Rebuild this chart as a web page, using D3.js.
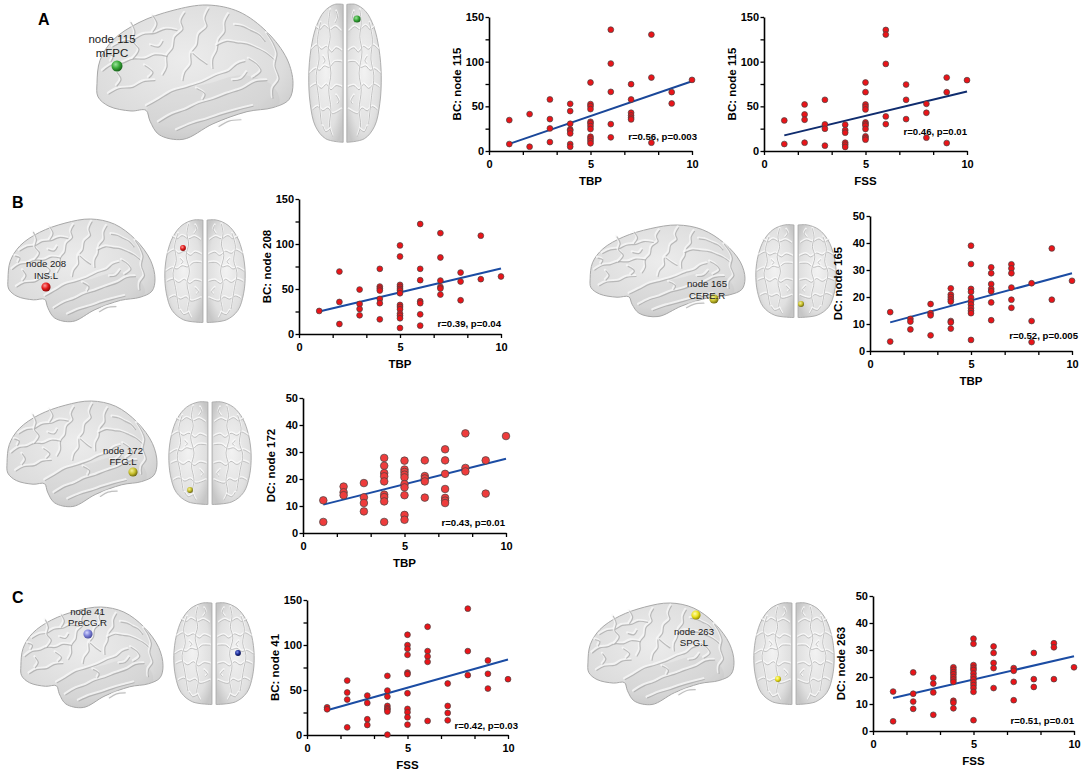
<!DOCTYPE html>
<html><head><meta charset="utf-8">
<script src="https://cdn.jsdelivr.net/npm/d3@7"></script>
<style>
body{margin:0;background:#fff;}
svg{display:block;font-family:"Liberation Sans",Arial,Helvetica,sans-serif;}
</style></head><body>
<svg id="fig" width="1084" height="772"></svg>
<script>
// ---------------- DATA ----------------
// clinical score levels (x categories)
const scoreLevels = [1,2,3,4,5,6,7,8,9,10];
// y values grouped by score level (index 0 -> score 1 ... index 9 -> score 10)
const bc115_TBP = [[34.6,7.8],[41.3,4.8],[57.7,35.7,25.3,10],[52.8,44.7,30.5,24.2,22.7,19.7,7.8,4.8],
  [76.7,52.5,50.2,46.9,32.7,30.9,27.9,24.6,16,13.8,11.2,8.6],[135.8,97.9,66.2,30.1,15.3],
  [74.8,57.7,42.8,39.8,37.2,35.4],[130.3,82.2,9.3],[65.9,53.2],[79.6]];
const bc115_FSS = [[34.2,7.8],[52.1,40.9,35,9.3],[57.3,29.8,24.9,6],[29.4,23.4,20.5,9.3,7.1,4.5],
  [76.7,65.9,52.1,49.5,46.5,32,30.1,28.3,24.6,16.4,14.5,12.7],[135.5,130.3,97.5,38.7,30.1],
  [74.4,57.3,35.7],[52.8,42.8,14.9],[82.2,65.9,8.9],[79.3]];
const bc208_TBP = [[25.6],[69.4,35.6,11.1],[49.4,33.4,27.8,20.8],[72.4,52.7,50.5,48.3,39,34.2,16.3],
  [98.4,86.1,54.6,52.4,50.1,48.3,45.3,32.3,30.1,27.5,22.7,20.4,17.5,6.7],[122.2,72.4,59.8,36.4,34.2,21.9,9.3],
  [112.1,85,59.4,52.4,50.5,43.8],[68.3,58.3,37.5],[109.2,60.9],[63.9]];
const dc165_TBP = [[14.4,3.5],[11.9,10.9,8.0],[17.4,14,13.2,5.8],[23.2,20.9,20,19.1,18.3,11.1,10.6,8.3],
  [39,32.2,23,21.9,19.8,18.3,17.2,15.9,14.9,14,4.1],[31,28.8,24.8,23,22.1,18,11.4],
  [32.1,30.6,28.8,23.5,19,16],[25.1,11.1,3.3],[38,19],[26]];
const dc172_TBP = [[12.1,4.1],[17.2,15.1,14],[18.5,13.2,11.1,8],[27.8,24.9,22.2,21,19.1,14.2,13.3,11.7,4.1],
  [26.8,23.5,22.6,21.6,20.6,18.1,16.9,14,6.7,4.9],[26.9,21.1,20.2,19.1,13.1],
  [31,26.9,21.9,16.3,13,12,11.1],[36.9,24.1,22.8],[26.9,14.6],[35.9]];
const bc41_FSS = [[30.8,28.6],[60.5,47.2,39.4,8.5],[43.8,35.6,17.5,11.1],[65.7,49.4,42.7,32.3,29.7,28.2,26,0.4],
  [111.4,99.9,95.8,89.1,69.4,67.6,46.4,29,25.3,19.7,11.5],[120.3,93.2,87.3,81.3,15.6],
  [57.2,32.3,24.5,16.3],[140.4,93.2,66.5],[82.8,68,51.6],[62]];
const dc263_FSS = [[14.6,3.6],[21.7,13.8,10.9,8.2],[19.7,17.6,14.3,6],[23.6,22.7,21.8,21,20,19.1,18.2,11.2,10.5,8.4],
  [34.2,32.3,24.4,23.4,22.6,21.3,20.1,19.1,18,17,15.9,14.5,4],[31.3,28.9,25.2,23.3,15.9],
  [23.3,22.3,18.2,11.4],[28.9,19.2,16.3],[32.5,31,19.2],[23.6]];
// regression fitted values at x = 1 and x = 10
const fitX = [1, 10];
const fit_bc115_TBP = [8, 78];
const fit_bc115_FSS = [17.5, 66.6];
const fit_bc208_TBP = [25, 72.8];
const fit_dc165_TBP = [10.6, 28.8];
const fit_dc172_TBP = [10.5, 27.5];
const fit_bc41_FSS = [27.5, 83.9];
const fit_dc263_FSS = [12.2, 27.7];
// ticks
const xTicks = [0, 5/3, 10/3, 5, 20/3, 25/3, 10];
const xTickLabels = [0, 5, 10];
const bcTicks = [0, 25, 50, 75, 100, 125, 150];
const bcTickLabels = [0, 50, 100, 150];
const dcTicks = [0, 10, 20, 30, 40, 50];
const dcTickLabels = [0, 10, 20, 30, 40, 50];
const statLabels = ["r=0.56, p=0.003","r=0.46, p=0.01","r=0.39, p=0.04","r=0.52, p=0.005","r=0.43, p=0.01","r=0.42, p=0.03","r=0.51, p=0.01"];
const yTitles = ["BC: node 115","BC: node 115","BC: node 208","DC: node 165","DC: node 172","BC: node 41","DC: node 263"];
const xTitles = ["TBP","FSS","TBP","TBP","TBP","FSS","FSS"];
const panelLetters = ["A","B","C"];
const nodeLabels = [["node 115","mFPC"],["node 208","INS.L"],["node 165","CERE.R"],["node 172","FFG.L"],["node 41","PreCG.R"],["node 263","SPG.L"]];

// ---------------- LAYOUT ----------------
const svg = d3.select("#fig");
const defs = svg.append("defs");

const plots = [
  {data:bc115_TBP, fit:fit_bc115_TBP, yMax:150, ticks:bcTicks, labels:bcTickLabels, box:[489,692,17,151], note:[697,139.5], r:2.9, fill:"#ea1419", line:"#1a4799"},
  {data:bc115_FSS, fit:fit_bc115_FSS, yMax:150, ticks:bcTicks, labels:bcTickLabels, box:[764,967,17,151], note:[967,134.5], r:2.9, fill:"#ea1419", line:"#0f2c6e"},
  {data:bc208_TBP, fit:fit_bc208_TBP, yMax:150, ticks:bcTicks, labels:bcTickLabels, box:[299,501,199,334], note:[501,327], r:2.9, fill:"#ea1419", line:"#1b4ca3"},
  {data:dc165_TBP, fit:fit_dc165_TBP, yMax:50, ticks:dcTicks, labels:dcTickLabels, box:[870,1072,216,351], note:[1078,338.5], r:2.9, fill:"#ea1419", line:"#1b4ca3"},
  {data:dc172_TBP, fit:fit_dc172_TBP, yMax:50, ticks:dcTicks, labels:dcTickLabels, box:[303,506,398,533], note:[505,526], r:3.8, fill:"#ee3c3c", line:"#1b4ca3"},
  {data:bc41_FSS, fit:fit_bc41_FSS, yMax:150, ticks:bcTicks, labels:bcTickLabels, box:[307,508,600,735], note:[518,728.5], r:2.9, fill:"#ea1419", line:"#1b4ca3"},
  {data:dc263_FSS, fit:fit_dc263_FSS, yMax:50, ticks:dcTicks, labels:dcTickLabels, box:[873,1074,596,731], note:[1074,723.5], r:2.9, fill:"#ea1419", line:"#1b4ca3"}
];

// ---------------- BRAIN ILLUSTRATIONS ----------------
const bg = defs.append("radialGradient").attr("id","latGrad").attr("cx","45%").attr("cy","40%").attr("r","72%");
bg.append("stop").attr("offset","0%").attr("stop-color","#ececec");
bg.append("stop").attr("offset","70%").attr("stop-color","#dcdcdc");
bg.append("stop").attr("offset","100%").attr("stop-color","#c4c4c4");
const ag = defs.append("radialGradient").attr("id","axGrad").attr("cx","50%").attr("cy","48%").attr("r","62%");
ag.append("stop").attr("offset","0%").attr("stop-color","#f2f2f2");
ag.append("stop").attr("offset","72%").attr("stop-color","#e0e0e0");
ag.append("stop").attr("offset","100%").attr("stop-color","#c6c6c6");

const latOutline = [[0.02,0.58],[0.035,0.41],[0.1,0.26],[0.23,0.13],[0.4,0.04],[0.57,0.0],[0.73,0.05],[0.87,0.2],[0.97,0.4],[1.0,0.58],[0.98,0.7],[0.9,0.76],[0.77,0.79],[0.6,0.88],[0.45,0.995],[0.33,0.96],[0.285,0.86],[0.265,0.78],[0.19,0.785],[0.08,0.75],[0.025,0.68]];
const latTemporal = [[0.27,0.77],[0.4,0.65],[0.58,0.58],[0.75,0.52],[0.9,0.6],[0.93,0.73],[0.77,0.79],[0.6,0.88],[0.45,0.995],[0.33,0.96],[0.285,0.86]];
const latSulci = [
  [[0.27,0.75],[0.33,0.7],[0.4,0.64],[0.47,0.61],[0.55,0.57],[0.62,0.52],[0.68,0.49],[0.72,0.44],[0.76,0.42]],
  [[0.33,0.87],[0.4,0.81],[0.46,0.78],[0.53,0.73],[0.6,0.7],[0.67,0.66],[0.75,0.62],[0.81,0.57],[0.87,0.56]],
  [[0.42,0.93],[0.5,0.88],[0.57,0.85],[0.65,0.81],[0.72,0.78],[0.8,0.75]],
  [[0.58,0.03],[0.56,0.1],[0.57,0.16],[0.53,0.22],[0.52,0.3],[0.49,0.36],[0.49,0.44],[0.46,0.5],[0.45,0.56]],
  [[0.46,0.06],[0.44,0.12],[0.45,0.18],[0.41,0.24],[0.4,0.32],[0.37,0.38],[0.37,0.46],[0.35,0.52]],
  [[0.68,0.07],[0.66,0.13],[0.66,0.2],[0.63,0.26],[0.62,0.34],[0.6,0.4],[0.6,0.47]],
  [[0.1,0.31],[0.15,0.27],[0.2,0.26],[0.25,0.22],[0.31,0.21],[0.36,0.18],[0.42,0.19]],
  [[0.05,0.49],[0.1,0.44],[0.15,0.43],[0.2,0.4],[0.26,0.4],[0.31,0.37],[0.37,0.38]],
  [[0.62,0.3],[0.67,0.27],[0.72,0.28],[0.77,0.29],[0.82,0.32],[0.86,0.35],[0.91,0.41]],
  [[0.87,0.21],[0.9,0.28],[0.92,0.36],[0.91,0.45],[0.93,0.55],[0.9,0.62],[0.9,0.69]],
  [[0.08,0.66],[0.13,0.62],[0.2,0.61],[0.25,0.57],[0.31,0.56]],
  [[0.71,0.15],[0.75,0.16],[0.79,0.19],[0.83,0.22],[0.86,0.27]],
  [[0.19,0.13],[0.21,0.2],[0.2,0.27],[0.23,0.33],[0.2,0.4]],
  [[0.12,0.5],[0.14,0.55],[0.12,0.6]],
  [[0.78,0.4],[0.82,0.44],[0.84,0.49],[0.8,0.54]],
  [[0.3,0.08],[0.32,0.14],[0.3,0.2]],
  [[0.26,0.45],[0.3,0.5],[0.28,0.54]],
  [[0.52,0.62],[0.56,0.66],[0.55,0.7]],
  [[0.7,0.56],[0.74,0.55],[0.77,0.5]],
  [[0.5,0.36],[0.54,0.41],[0.57,0.44]],
  [[0.35,0.27],[0.33,0.31],[0.29,0.3]],
  [[0.07,0.36],[0.1,0.38],[0.09,0.42]],
  [[0.63,0.9],[0.68,0.86],[0.74,0.85]]
];
const axHemi = [[0.475,0.01],[0.36,0.01],[0.22,0.06],[0.11,0.17],[0.04,0.33],[0.01,0.52],[0.03,0.72],[0.1,0.88],[0.24,0.97],[0.475,0.995]];
const axSulci = [
  [[0.1,0.17],[0.16,0.19],[0.22,0.16],[0.3,0.19],[0.37,0.17],[0.44,0.2]],
  [[0.05,0.33],[0.12,0.3],[0.18,0.33],[0.25,0.31],[0.32,0.35],[0.38,0.32],[0.45,0.34]],
  [[0.03,0.5],[0.1,0.47],[0.16,0.48],[0.22,0.45],[0.29,0.46],[0.36,0.42],[0.45,0.42]],
  [[0.04,0.6],[0.11,0.58],[0.18,0.61],[0.25,0.58],[0.31,0.62],[0.38,0.59],[0.45,0.6]],
  [[0.07,0.76],[0.13,0.74],[0.2,0.77],[0.27,0.75],[0.33,0.79],[0.45,0.76]],
  [[0.3,0.05],[0.28,0.14],[0.3,0.24],[0.27,0.35],[0.31,0.5],[0.28,0.62],[0.31,0.76],[0.29,0.88],[0.33,0.95]],
  [[0.17,0.14],[0.13,0.26],[0.15,0.4],[0.11,0.52],[0.14,0.66],[0.18,0.86]],
  [[0.38,0.06],[0.4,0.1],[0.37,0.14]],
  [[0.2,0.88],[0.24,0.92],[0.3,0.9]],
  [[0.38,0.66],[0.42,0.7],[0.4,0.72]],
  [[0.2,0.38],[0.23,0.41],[0.21,0.43]]
];

function drawLateral(b){
  const [bx,by,bw,bh] = b;
  const sx = d3.scaleLinear().range([bx,bx+bw]), sy = d3.scaleLinear().range([by,by+bh]);
  const g = svg.append("g");
  const closed = d3.line().x(d=>sx(d[0])).y(d=>sy(d[1])).curve(d3.curveCatmullRomClosed);
  const open = d3.line().x(d=>sx(d[0])).y(d=>sy(d[1])).curve(d3.curveCatmullRom);
  g.append("path").attr("d",closed(latOutline)).attr("fill","url(#latGrad)").attr("stroke","#a8a8a8").attr("stroke-width",1);
  g.append("path").attr("d",closed(latTemporal)).attr("fill","#9a9a9a").attr("fill-opacity",0.1).attr("stroke","none");
  latSulci.forEach(s=>{
    g.append("path").attr("d",open(s)).attr("fill","none").attr("stroke","#f8f8f8").attr("stroke-width",2.4).attr("stroke-opacity",0.75).attr("stroke-linecap","round").attr("transform","translate(-1,-1.2)");
    g.append("path").attr("d",open(s)).attr("fill","none").attr("stroke","#a4a4a4").attr("stroke-width",1.2).attr("stroke-opacity",0.7).attr("stroke-linecap","round");
  });
}
function drawAxial(b){
  const [bx,by,bw,bh] = b;
  const g = svg.append("g");
  [false,true].forEach(m=>{
    const sx = d3.scaleLinear().range(m?[bx+bw,bx]:[bx,bx+bw]), sy = d3.scaleLinear().range([by,by+bh]);
    const ln = d3.line().x(d=>sx(d[0])).y(d=>sy(d[1])).curve(d3.curveCatmullRom);
    g.append("path").attr("d",ln(axHemi)+"Z").attr("fill","url(#axGrad)").attr("stroke","#a8a8a8").attr("stroke-width",0.9);
    axSulci.forEach(s=>{
      g.append("path").attr("d",ln(s)).attr("fill","none").attr("stroke","#fcfcfc").attr("stroke-width",2).attr("stroke-opacity",0.75).attr("stroke-linecap","round").attr("transform","translate(0,-1)");
      g.append("path").attr("d",ln(s)).attr("fill","none").attr("stroke","#a9a9a9").attr("stroke-width",1).attr("stroke-opacity",0.7).attr("stroke-linecap","round");
    });
  });
}
const sphereColors = {green:["#9be39b","#38a838","#17621a"], red:["#ff9a9a","#e21a1a","#8c0a0a"], olive:["#f4ef9a","#c7bf2c","#6f6a10"], lav:["#d6d8ff","#7c80d8","#4a4d9c"], navy:["#7e8ee8","#1c2e9a","#0a1250"], yellow:["#fffbb0","#ebe21e","#9a9000"]};
Object.entries(sphereColors).forEach(([k,c])=>{
  const gr = defs.append("radialGradient").attr("id","sph-"+k).attr("cx","38%").attr("cy","35%").attr("r","65%");
  gr.append("stop").attr("offset","0%").attr("stop-color",c[0]);
  gr.append("stop").attr("offset","55%").attr("stop-color",c[1]);
  gr.append("stop").attr("offset","100%").attr("stop-color",c[2]);
});

const lateralBoxes = [[93,5,200,135],[5,219,150,103],[587,225,158,92],[4,401,153,106],[18,607,145,101],[585,603,149,102]];
const axialBoxes = [[308,3,74,140],[164,219,82,104],[755,224,82,94],[168,401,84,104],[173,602,82,103],[753,602,82,103]];
lateralBoxes.forEach(drawLateral);
axialBoxes.forEach(drawAxial);

const nodes = [
  [117,66,5.5,"green"],[357,19,3.6,"green"],
  [46,287,4.6,"red"],[183,248,2.9,"red"],
  [714,299,4.6,"olive"],[801,304,3,"olive"],
  [133,472,4.6,"olive"],[190,490,2.9,"olive"],
  [88,634,4.6,"lav"],[238,653,2.9,"navy"],
  [696,615,4.6,"yellow"],[778,679,3,"yellow"]
];
svg.append("g").selectAll("circle").data(nodes).join("circle")
  .attr("cx",d=>d[0]).attr("cy",d=>d[1]).attr("r",d=>d[2]).attr("fill",d=>"url(#sph-"+d[3]+")");

const labelPos = [[112,39,53,11.5],[46,264,276,9.6],[707,284,296,9.6],[123,451,462,9.6],[87.5,612,623,9.6],[694,632,643,9.6]];
nodeLabels.forEach((lab,i)=>{
  const [cx,y1,y2,fs] = labelPos[i];
  [y1,y2].forEach((yy,j)=>{
    svg.append("text").attr("x",cx).attr("y",yy).attr("dy","0.35em").attr("text-anchor","middle")
      .attr("font-size",fs).attr("fill","#1a1a1a").text(lab[j]);
  });
});

const letterPos = [[38,25],[12,208],[12,603]];
panelLetters.forEach((t,i)=>{
  svg.append("text").attr("x",letterPos[i][0]).attr("y",letterPos[i][1]).attr("font-size",16).attr("font-weight","bold").text(t);
});

// ---------------- SCATTER PLOTS ----------------
plots.forEach((p,i)=>{
  const [x0,x1,yT,yB] = p.box;
  const x = d3.scaleLinear().domain([0,10]).range([x0,x1]);
  const y = d3.scaleLinear().domain([0,p.yMax]).range([yB,yT]);
  const g = svg.append("g");
  const xa = d3.axisBottom(x).tickValues(xTicks).tickFormat(d=>xTickLabels.includes(d)?d:"").tickSize(4).tickSizeOuter(0).tickPadding(5.5);
  const ya = d3.axisLeft(y).tickValues(p.ticks).tickFormat(d=>p.labels.includes(d)?d:"").tickSize(3.5).tickSizeOuter(0).tickPadding(1.5);
  const gx = g.append("g").attr("transform",`translate(0,${yB})`).call(xa);
  const gy = g.append("g").attr("transform",`translate(${x0},0)`).call(ya);
  [gx,gy].forEach(a=>{
    a.select(".domain").attr("stroke","#000").attr("stroke-width",1.6);
    a.selectAll(".tick line").attr("stroke","#000").attr("stroke-width",1.3);
    a.selectAll(".tick text").attr("font-size",11).attr("font-weight","bold").attr("fill","#000").attr("font-family","Liberation Sans, Arial, sans-serif");
  });
  // regression line
  g.append("line").attr("x1",x(fitX[0])).attr("y1",y(p.fit[0])).attr("x2",x(fitX[1])).attr("y2",y(p.fit[1]))
    .attr("stroke",p.line).attr("stroke-width",2);
  // points
  const pts = p.data.flatMap((arr,k)=>arr.map(v=>[scoreLevels[k],v]));
  g.append("g").selectAll("circle").data(pts).join("circle")
    .attr("cx",d=>x(d[0])).attr("cy",d=>y(d[1])).attr("r",p.r)
    .attr("fill",p.fill).attr("stroke","#444").attr("stroke-width",0.7);
  // titles
  g.append("text").attr("x",(x0+x1)/2).attr("y",yB+30).attr("dy","0.35em").attr("text-anchor","middle")
    .attr("font-size",11.5).attr("font-weight","bold").text(xTitles[i]);
  g.append("text").attr("transform",`translate(${x0-32.5},${(yT+yB)/2}) rotate(-90)`).attr("dy","0.35em").attr("text-anchor","middle")
    .attr("font-size",11.5).attr("font-weight","bold").text(yTitles[i]);
  g.append("text").attr("x",p.note[0]).attr("y",p.note[1]).attr("text-anchor","end")
    .attr("font-size",9.6).attr("font-weight","bold").text(statLabels[i]);
});
</script>
</body></html>
